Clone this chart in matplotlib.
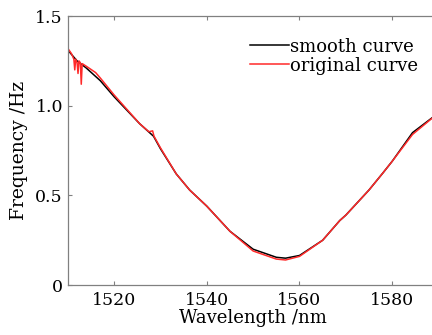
import matplotlib.pyplot as plt

# Curva suavizada
wl_smooth = [1510, 1512, 1514, 1517, 1520, 1525.5, 1528.5, 1530, 1533.4, 1536.3,
             1540, 1545, 1550, 1555, 1557, 1560, 1565, 1568.7, 1570, 1575,
             1578, 1580, 1584.4, 1590]
f_smooth = [1.31, 1.25, 1.21, 1.14, 1.05, 0.90, 0.83, 0.76, 0.62, 0.53,
            0.44, 0.30, 0.20, 0.155, 0.15, 0.165, 0.25, 0.36, 0.39, 0.53,
            0.625, 0.69, 0.85, 0.96]

# Curva original (con picos de ruido)
wl_orig = [1510, 1510.8, 1511.3, 1511.5, 1511.7, 1512.0, 1512.2, 1512.4, 1512.7,
           1512.9, 1513.1, 1514, 1516, 1517, 1520, 1525.5, 1527.5, 1528.3, 1528.6,
           1530, 1533.4, 1536.3, 1540, 1545, 1550, 1555, 1557, 1560, 1565,
           1568.7, 1570, 1575, 1578, 1580, 1584.4, 1590]
f_orig = [1.32, 1.29, 1.26, 1.20, 1.26, 1.24, 1.18, 1.25, 1.24,
          1.12, 1.235, 1.22, 1.185, 1.155, 1.06, 0.90, 0.855, 0.86, 0.83,
          0.765, 0.62, 0.53, 0.44, 0.30, 0.19, 0.145, 0.14, 0.16, 0.25,
          0.36, 0.39, 0.53, 0.625, 0.69, 0.84, 0.96]

xticks = [1520, 1540, 1560, 1580]
yticks = [0, 0.5, 1.0, 1.5]
ytick_labels = ["0", "0.5", "1.0", "1.5"]

plt.rcParams['font.family'] = ['DejaVu Serif']

fig = plt.figure(figsize=(4.32, 3.35), dpi=100)
ax = fig.add_axes([0.157, 0.149, 0.858, 0.803])

ax.plot(wl_smooth, f_smooth, color='black', linewidth=1.1, label='smooth curve')
ax.plot(wl_orig, f_orig, color='#ff2a2a', linewidth=1.1, label='original curve')

ax.set_xlim(1510, 1590)
ax.set_ylim(0, 1.5)
ax.set_xticks(xticks)
ax.set_yticks(yticks)
ax.set_yticklabels(ytick_labels)
ax.tick_params(direction='in', length=3, width=0.8, color='#808080',
               labelsize=12.5, top=True, right=True)
ax.tick_params(axis='x', pad=5)
for s in ax.spines.values():
    s.set_color('#808080')
    s.set_linewidth(0.9)

ax.set_xlabel("Wavelength /nm", fontsize=13, labelpad=0)
ax.set_ylabel("Frequency /Hz", fontsize=13.5, labelpad=5)

ax.legend(loc='upper right', bbox_to_anchor=(0.975, 0.96), frameon=False,
          fontsize=13, handlelength=2.2, handletextpad=0.05, labelspacing=0.05,
          borderaxespad=0.2)

plt.savefig("out.png", dpi=100)
plt.close()
